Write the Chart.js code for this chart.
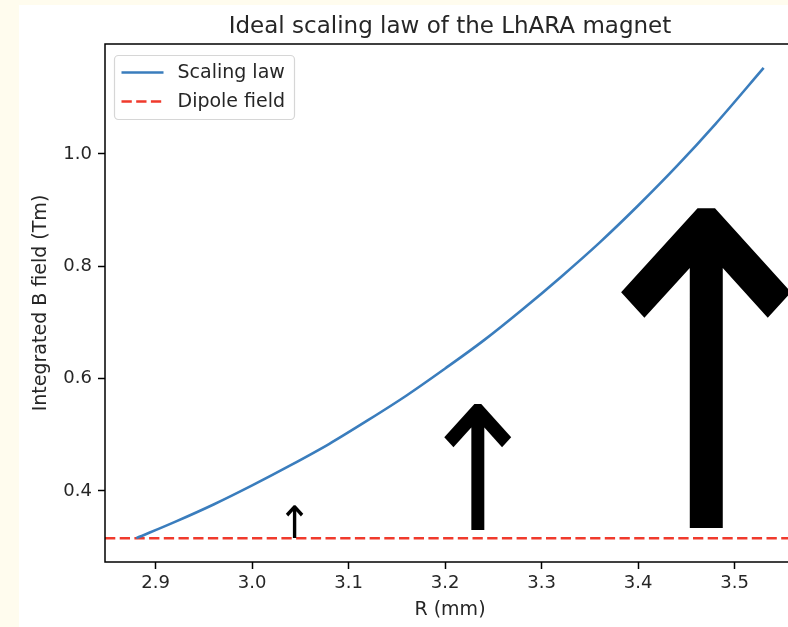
<!DOCTYPE html>
<html>
<head>
<meta charset="utf-8">
<script src="https://cdn.jsdelivr.net/npm/chart.js@4.4.0/dist/chart.umd.min.js"></script>
<style>
html, body { margin: 0; padding: 0; overflow: hidden; background: #fffcee; }
#wrap { position: absolute; left: 0; top: 0; width: 810px; height: 627px; }
</style>
</head>
<body>
<div id="wrap"><canvas id="myChart" width="810" height="627"></canvas></div>
<script>
// values
const rValues = [2.88, 2.92, 2.96, 3.00, 3.04, 3.08, 3.12, 3.16, 3.20, 3.24, 3.28, 3.32, 3.36, 3.40, 3.44, 3.48, 3.53];
const scalingLaw = [0.316, 0.345, 0.376, 0.410, 0.446, 0.484, 0.526, 0.570, 0.618, 0.668, 0.723, 0.781, 0.842, 0.908, 0.978, 1.053, 1.153];
const dipoleField = 0.316;

const xTicks = [2.9, 3.0, 3.1, 3.2, 3.3, 3.4, 3.5];
const yTicks = [0.4, 0.6, 0.8, 1.0];
const xMin = 2.8475, xMax = 3.5625;
const yMin = 0.2736, yMax = 1.1955;

// the three "↑" marks: R position, bottom and top in Tm
const arrowR = [3.044, 3.234, 3.471];
const arrowBase = [0.316, 0.3305, 0.334];
const arrowTop = [0.375, 0.557, 0.909];

const titleText = "Ideal scaling law of the LhARA magnet";
const textColor = "#262626";

Chart.defaults.font.family = "'DejaVu Sans', sans-serif";
Chart.defaults.color = textColor;

const framePlugin = {
    id: "frame",
    beforeDraw(chart) {
        const ctx = chart.ctx;
        ctx.save();
        ctx.fillStyle = "#fffcee";
        ctx.fillRect(0, 0, chart.width, chart.height);
        ctx.fillStyle = "#ffffff";
        ctx.fillRect(19, 5, chart.width - 19, chart.height - 5);
        ctx.restore();
    },
    afterDraw(chart) {
        const ctx = chart.ctx;
        const a = chart.chartArea;
        ctx.save();
        // spines
        ctx.strokeStyle = "#000";
        ctx.lineWidth = 1.5;
        ctx.strokeRect(a.left, a.top, a.right - a.left, a.bottom - a.top);

        // title
        ctx.fillStyle = textColor;
        ctx.font = "23px 'DejaVu Sans'";
        ctx.textAlign = "center";
        ctx.textBaseline = "middle";
        ctx.fillText(titleText, (a.left + a.right) / 2, 27);

        // arrows drawn as text glyphs, a little narrower than DejaVu's
        const xs = chart.scales.x, ys = chart.scales.y;
        const squeeze = 0.91;
        ctx.fillStyle = "#000";
        ctx.textAlign = "left";
        ctx.textBaseline = "alphabetic";
        arrowR.forEach((r, i) => {
            ctx.font = "100px 'DejaVu Sans'";
            const m = ctx.measureText("↑");
            const gh = m.actualBoundingBoxAscent + m.actualBoundingBoxDescent;
            const yb = ys.getPixelForValue(arrowBase[i]);
            const yt = ys.getPixelForValue(arrowTop[i]);
            const k = (yb - yt) / gh;
            ctx.font = (100 * k) + "px 'DejaVu Sans'";
            const xc = xs.getPixelForValue(r);
            const gw = (m.actualBoundingBoxRight + m.actualBoundingBoxLeft) * k;
            ctx.save();
            ctx.translate(xc, yb);
            ctx.scale(squeeze, 1);
            ctx.fillText("↑", -gw / 2 + m.actualBoundingBoxLeft * k, -m.actualBoundingBoxDescent * k);
            ctx.restore();
        });

        // legend, matplotlib style
        const lx = a.left + 9.5, ly = a.top + 11.5, lw = 180, lh = 64;
        ctx.beginPath();
        ctx.roundRect(lx, ly, lw, lh, 4);
        ctx.fillStyle = "rgba(255,255,255,0.8)";
        ctx.fill();
        ctx.strokeStyle = "#d6d6d6";
        ctx.lineWidth = 1.2;
        ctx.stroke();
        ctx.font = "19px 'DejaVu Sans'";
        ctx.textBaseline = "middle";
        chart.data.datasets.forEach((ds, i) => {
            const y = ly + 17 + i * 29;
            ctx.beginPath();
            ctx.setLineDash(ds.borderDash || []);
            ctx.strokeStyle = ds.borderColor;
            ctx.lineWidth = ds.borderWidth;
            ctx.moveTo(lx + 7, y);
            ctx.lineTo(lx + 49, y);
            ctx.stroke();
            ctx.setLineDash([]);
            ctx.fillStyle = textColor;
            ctx.fillText(ds.label, lx + 63, y + 1);
        });
        ctx.restore();
    }
};

const ctx = document.getElementById("myChart").getContext("2d");
const myChart = new Chart(ctx, {
    type: "scatter",
    data: {
        datasets: [{
            label: "Scaling law",
            data: rValues.map((r, i) => ({ x: r, y: scalingLaw[i] })),
            showLine: true,
            borderColor: "#3a7dbd",
            borderWidth: 2.6,
            pointRadius: 0,
            cubicInterpolationMode: "monotone"
        }, {
            label: "Dipole field",
            data: [{ x: xMin, y: dipoleField }, { x: xMax, y: dipoleField }],
            showLine: true,
            borderColor: "#f03a2c",
            borderWidth: 2.6,
            borderDash: [10.3, 4.4],
            pointRadius: 0
        }]
    },
    options: {
        responsive: false,
        devicePixelRatio: 1,
        animation: false,
        layout: { padding: { top: 44, right: 15, left: 0, bottom: 0 } },
        plugins: {
            legend: { display: false },
            title: { display: false },
            tooltip: { enabled: false }
        },
        scales: {
            x: {
                type: "linear",
                min: xMin,
                max: xMax,
                afterBuildTicks: s => { s.ticks = xTicks.map(v => ({ value: v })); },
                afterFit: s => { s.height = 65; },
                grid: { drawOnChartArea: false, drawTicks: true, tickLength: 7, tickWidth: 1.5, tickColor: "#000" },
                border: { display: false },
                ticks: { font: { size: 18 }, padding: 4, maxRotation: 0, autoSkip: false, callback: v => v.toFixed(1) },
                title: { display: true, text: "R (mm)", font: { size: 19 }, padding: { top: 0, bottom: 6 } }
            },
            y: {
                min: yMin,
                max: yMax,
                afterBuildTicks: s => { s.ticks = yTicks.map(v => ({ value: v })); },
                afterFit: s => { s.width = 105; },
                grid: { drawOnChartArea: false, drawTicks: true, tickLength: 7, tickWidth: 1.5, tickColor: "#000" },
                border: { display: false },
                ticks: { font: { size: 18 }, padding: 6, autoSkip: false, callback: v => v.toFixed(1) },
                title: { display: true, text: "Integrated B field (Tm)", font: { size: 19 }, padding: { top: 30, bottom: 0 } }
            }
        }
    },
    plugins: [framePlugin]
});
</script>
</body>
</html>
